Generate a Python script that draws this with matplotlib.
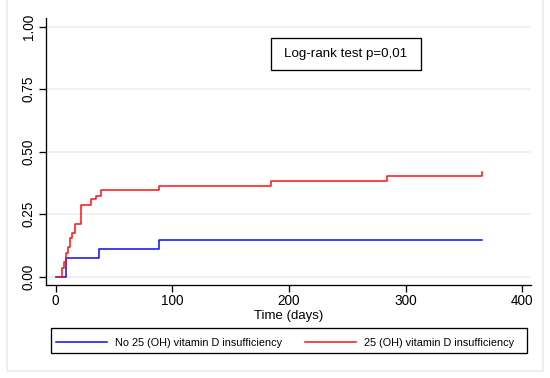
import matplotlib
matplotlib.use("Agg")
import matplotlib.pyplot as plt
from matplotlib.patches import Rectangle

plt.rcParams['font.family'] = ['Liberation Sans', 'DejaVu Sans']

# Kaplan-Meier failure estimates
days_no_def = [0, 9.2, 37.2, 88.8, 365]
fail_no_def = [0, 0.076, 0.11, 0.147, 0.147]

days_def = [0, 5.7, 7.1, 9.1, 10.9, 12.3, 14.3, 16.6, 22, 30, 34.3, 38.6, 88.2, 184.5, 283.6, 365]
fail_def = [0, 0.037, 0.06, 0.094, 0.12, 0.157, 0.174, 0.21, 0.288, 0.31, 0.325,
            0.346, 0.364, 0.384, 0.403, 0.42]

xticks = [0, 100, 200, 300, 400]
yticks = [0, 0.25, 0.5, 0.75, 1.0]
ytick_labels = ['0.00', '0.25', '0.50', '0.75', '1.00']
labels = ['No 25 (OH) vitamin D insufficiency', '25 (OH) vitamin D insufficiency']
logrank_text = 'Log-rank test p=0,01'

W, H = 550, 378
fig = plt.figure(figsize=(W / 100, H / 100), dpi=100)

# plot region in pixel coordinates
x0, x1, ytop, ybot = 46, 531, 18, 285
ax = fig.add_axes([x0 / W, 1 - ybot / H, (x1 - x0) / W, (ybot - ytop) / H])

grid_col = '#e9eff2'
for yv in yticks:
    ax.axhline(yv, color=grid_col, lw=1.1, zorder=0)

ax.step(days_no_def, fail_no_def, where='post', color='#0a0aff', lw=1.1, label=labels[0])
ax.step(days_def, fail_def, where='post', color='#ff1010', lw=1.1, label=labels[1])

ax.set_xlim(-8.3, 407.3)
ax.set_ylim(-0.033, 1.035)
ax.set_xticks(xticks)
ax.set_yticks(yticks)
ax.set_yticklabels(ytick_labels, rotation=90, va='center')

for s in ['top', 'right']:
    ax.spines[s].set_visible(False)
for s in ['left', 'bottom']:
    ax.spines[s].set_linewidth(0.95)
ax.tick_params(axis='x', length=4.8, width=0.95, pad=1.5, labelsize=9.8)
ax.tick_params(axis='y', length=5, width=0.95, pad=2.5, labelsize=9.8)
ax.set_xlabel('Time (days)', fontsize=9.5, labelpad=1.5)

# Log-rank box
bx0, bx1, by0, by1 = 271, 421, 38, 70
fig.add_artist(Rectangle((bx0 / W, 1 - by1 / H), (bx1 - bx0) / W, (by1 - by0) / H,
                         transform=fig.transFigure, fill=False, ec='black', lw=0.95))
fig.text((bx0 + bx1) / 2 / W, 1 - (by0 + by1) / 2 / H, logrank_text,
         ha='center', va='center', fontsize=9.6)

# legend (entries) + its frame drawn separately
lx0, lx1, ly0, ly1 = 50.7, 526.7, 328.3, 353.3
fig.legend(loc='lower left', ncol=2, mode='expand',
           bbox_to_anchor=(lx0 / W, 1 - ly1 / H, (519.3 - lx0) / W, (ly1 - ly0) / H),
           fontsize=7.8, handlelength=4.7, handletextpad=0.75, borderpad=0.49,
           borderaxespad=0, frameon=False)
fig.add_artist(Rectangle((lx0 / W, 1 - ly1 / H), (lx1 - lx0) / W, (ly1 - ly0) / H,
                         transform=fig.transFigure, fill=False, ec='black', lw=0.95))

# outer graph region frame
fig.add_artist(Rectangle((7.3 / W, 1 - 371 / H), (543 - 7.3) / W, 371 / H + 0.05,
                         transform=fig.transFigure, fill=False, ec='#e3eaed', lw=1.1))

fig.savefig('out.png', dpi=100)
